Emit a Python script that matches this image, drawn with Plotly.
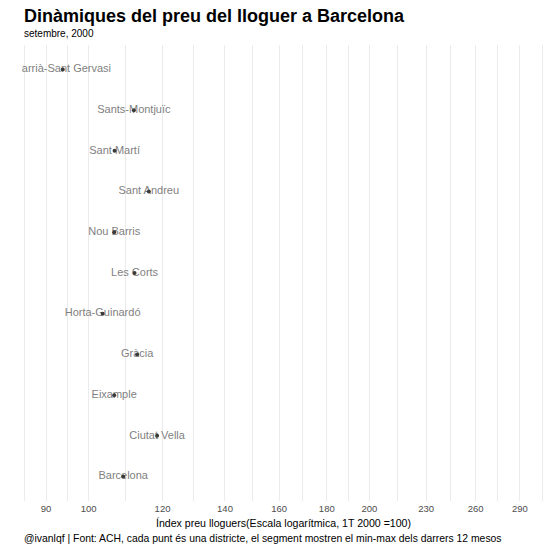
import math
import plotly.graph_objects as go

districts = ["Sarrià-Sant Gervasi", "Sants-Montjuïc", "Sant Martí", "Sant Andreu",
             "Nou Barris", "Les Corts", "Horta-Guinardó", "Gràcia", "Eixample",
             "Ciutat Vella", "Barcelona"]
index_values = [93.8, 111.8, 106.6, 116.0, 106.5, 112.0, 103.5, 112.7, 106.5, 118.4, 108.9]
tick_values = [90, 100, 120, 140, 160, 180, 200, 230, 260, 290]

# minor gridlines at geometric midpoints of the breaks (as ggplot does on log scale)
minor_vals = [math.sqrt(a * b) for a, b in zip(tick_values[:-1], tick_values[1:])]
minor_vals = [tick_values[0] ** 2 / minor_vals[0]] + minor_vals + [tick_values[-1] ** 2 / minor_vals[-1]]

order = list(reversed(districts))  # Barcelona at bottom

TOP, BOTTOM = 44.5, 501.5
H = BOTTOM - TOP


def py(pix):
    return (BOTTOM - pix) / H


fig = go.Figure()
fig.add_trace(go.Scatter(
    x=index_values, y=districts, mode="text", text=districts,
    textposition="middle center",
    textfont=dict(family="Liberation Sans, Arial, sans-serif", size=11, color="#7f7f7f"),
    hoverinfo="skip", showlegend=False, cliponaxis=True,
))
fig.add_trace(go.Scatter(
    x=index_values, y=districts, mode="markers",
    marker=dict(size=4, color="#3a3a3a"),
    showlegend=False, cliponaxis=True,
))

fig.update_layout(
    width=550, height=550,
    margin=dict(l=22, r=5, t=TOP, b=550 - BOTTOM),
    paper_bgcolor="white", plot_bgcolor="white",
    font=dict(family="Liberation Sans, Arial, sans-serif", color="black"),
    xaxis=dict(
        type="log",
        range=[math.log10(84.82), math.log10(308.5)],
        tickmode="array", tickvals=tick_values, ticktext=[str(v) for v in tick_values],
        tickfont=dict(size=9.5, color="#4d4d4d"),
        ticklabelstandoff=0,
        showgrid=True, gridcolor="#ebebeb", gridwidth=1,
        minor=dict(tickmode="array", tickvals=minor_vals, showgrid=True,
                   gridcolor="#ebebeb", gridwidth=1, ticks=""),
        zeroline=False, showline=False, ticks="", ticklen=0,
        title=dict(text="Índex preu lloguers(Escala logarítmica, 1T 2000 =100)",
                   font=dict(size=10.6, color="black"), standoff=7),
    ),
    yaxis=dict(
        type="category", categoryorder="array", categoryarray=order,
        range=[-0.6, 10.6],
        showticklabels=False, showgrid=False, zeroline=False, showline=False, ticks="",
    ),
    annotations=[
        dict(text="<b>Dinàmiques del preu del lloguer a Barcelona</b>",
             xref="paper", yref="paper", x=0, y=py(15),
             xanchor="left", yanchor="middle", showarrow=False,
             font=dict(size=18, color="black")),
        dict(text="setembre, 2000",
             xref="paper", yref="paper", x=0, y=py(33),
             xanchor="left", yanchor="middle", showarrow=False,
             font=dict(size=10, color="black")),
        dict(text="@ivanlqf | Font: ACH, cada punt és una districte, el segment mostren el min-max dels darrers 12 mesos",
             xref="paper", yref="paper", x=0, y=py(539),
             xanchor="left", yanchor="middle", showarrow=False,
             font=dict(size=10.4, color="black")),
    ],
)

fig.write_html("out.html", config={"displayModeBar": False},
               post_script="document.body.style.margin='0';document.body.style.padding='0';")
